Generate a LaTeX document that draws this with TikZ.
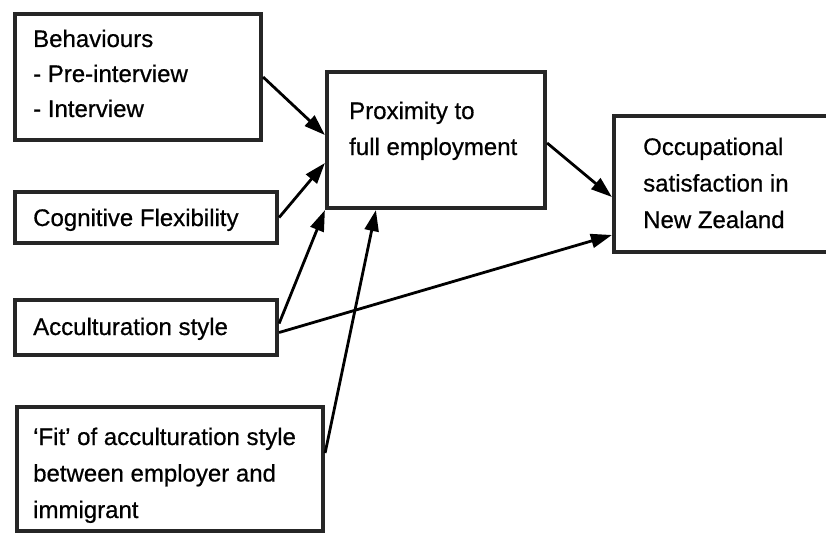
\documentclass[tikz,border=0pt]{standalone}
\usepackage{fontspec}
\setmainfont{Liberation Sans}[FakeBold=0.6]
\usetikzlibrary{arrows.meta,calc}
\begin{document}
\begin{tikzpicture}[x=1pt,y=-1pt,
  box/.style={draw=black!85, line width=4.2pt, rectangle, inner sep=0pt},
  boxtext/.style={anchor=base west, inner sep=0pt, align=flush left, text width=#1,
    font=\fontsize{24}{36}\selectfont},
  link/.style={line width=2.8pt, -{Triangle[length=21pt,width=14pt]}}]
\useasboundingbox (0,0) rectangle (826,535);

% frames
\node[box, minimum width=246pt, minimum height=126pt] (beh)  at (138,77)    {};
\node[box, minimum width=262pt, minimum height=51pt]  (cog)  at (146,217.5) {};
\node[box, minimum width=262pt, minimum height=55pt]  (acc)  at (146,327.5) {};
\node[box, minimum width=306pt, minimum height=124pt] (fit)  at (170,469)   {};
\node[box, minimum width=218pt, minimum height=136pt] (prox) at (436,140)   {};
\node[box, minimum width=226pt, minimum height=136pt] (occ)  at (727,184)   {};

% texts, placed by the baseline of their first line
\node[boxtext=225pt, font=\fontsize{24}{35}\selectfont] (behtxt) at (33,47)
  {Behaviours\\- Pre-interview\\- Interview};
\node[boxtext=240pt] (cogtxt) at (33,226) {Cognitive Flexibility};
\node[boxtext=240pt] (acctxt) at (33,335) {Acculturation style};
\node[boxtext=290pt, font=\fontsize{24}{36.5}\selectfont] (fittxt) at (33,445)
  {‘Fit’ of acculturation style\\between employer and\\immigrant};
\node[boxtext=195pt] (proxtxt) at (349,119) {Proximity to\\full employment};
\node[boxtext=180pt, font=\fontsize{24}{36.5}\selectfont] (occtxt) at (643,155)
  {Occupational\\satisfaction in\\New Zealand};

% influences
\draw[link] (beh.east) -- ($(prox.west)+(0,-5)$);
\draw[link] (cog.east) -- ($(prox.west)+(0,23)$);
\draw[link] ($(acc.east)+(0,-4)$) -- (prox.south west);
\draw[link] ($(acc.east)+(0,5)$) -- ($(occ.west)+(0,51)$);
\draw[link] ($(fit.east)+(0,-16)$) -- ($(prox.south west)+(51,0)$);
\draw[link] ($(prox.east)+(0,3)$) -- ($(occ.west)+(0,13)$);
\end{tikzpicture}
\end{document}
